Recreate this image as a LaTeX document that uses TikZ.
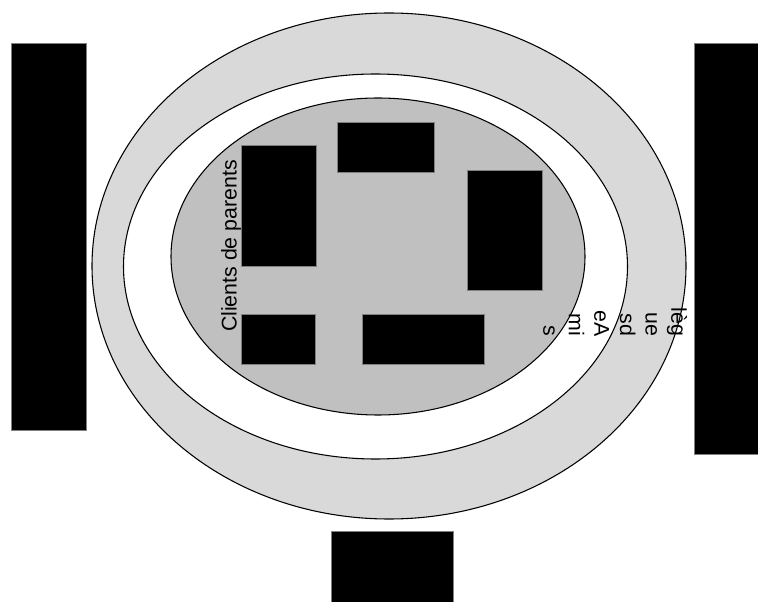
\documentclass[tikz,border=0pt]{standalone}
\usepackage{fontspec}
\setmainfont{Liberation Sans}
\usepackage{tikz}
\usetikzlibrary{positioning}
\definecolor{ringgray}{RGB}{217,217,217}
\definecolor{coregray}{RGB}{192,192,192}
\tikzset{
  block/.style = {draw=gray, fill=black, line width=0.4pt},
  ring/.style  = {draw=black, line width=0.8pt},
  lbl/.style   = {font=\fontsize{16}{19.2}\selectfont, inner sep=0pt},
}

\begin{document}
\begin{tikzpicture}[x=0.75pt,y=-0.75pt]
  \useasboundingbox (0,0) rectangle (758,602);
  % side and bottom bars
  \draw[block] (11,43) rectangle (86,430);
  \draw[block] (694,43) rectangle (758,454);
  \draw[block] (331,531) rectangle (453,602);
  % rings
  \draw[ring, fill=ringgray] (389,266) ellipse [x radius=297, y radius=253];
  \draw[ring, fill=white] (375.5,266.5) ellipse [x radius=252, y radius=192.5];
  \draw[ring, fill=coregray] (378,256.5) ellipse [x radius=207, y radius=158.5];
  % inner blocks
  \draw[block] (241,145) rectangle (316,266);
  \draw[block] (337,122) rectangle (434,172);
  \draw[block] (467,170) rectangle (542,290);
  \draw[block] (241,314) rectangle (315,364);
  \draw[block] (362,314) rectangle (484,364);
  % labels
  \node[lbl, rotate=90] (parents) at (231,246) {Clients de parents};
  \node[lbl, rotate=-90, align=right] (collegues) at (615,322)
    {lèg\\ue\\sd\\eA\\mi\\s};
\end{tikzpicture}
\end{document}
